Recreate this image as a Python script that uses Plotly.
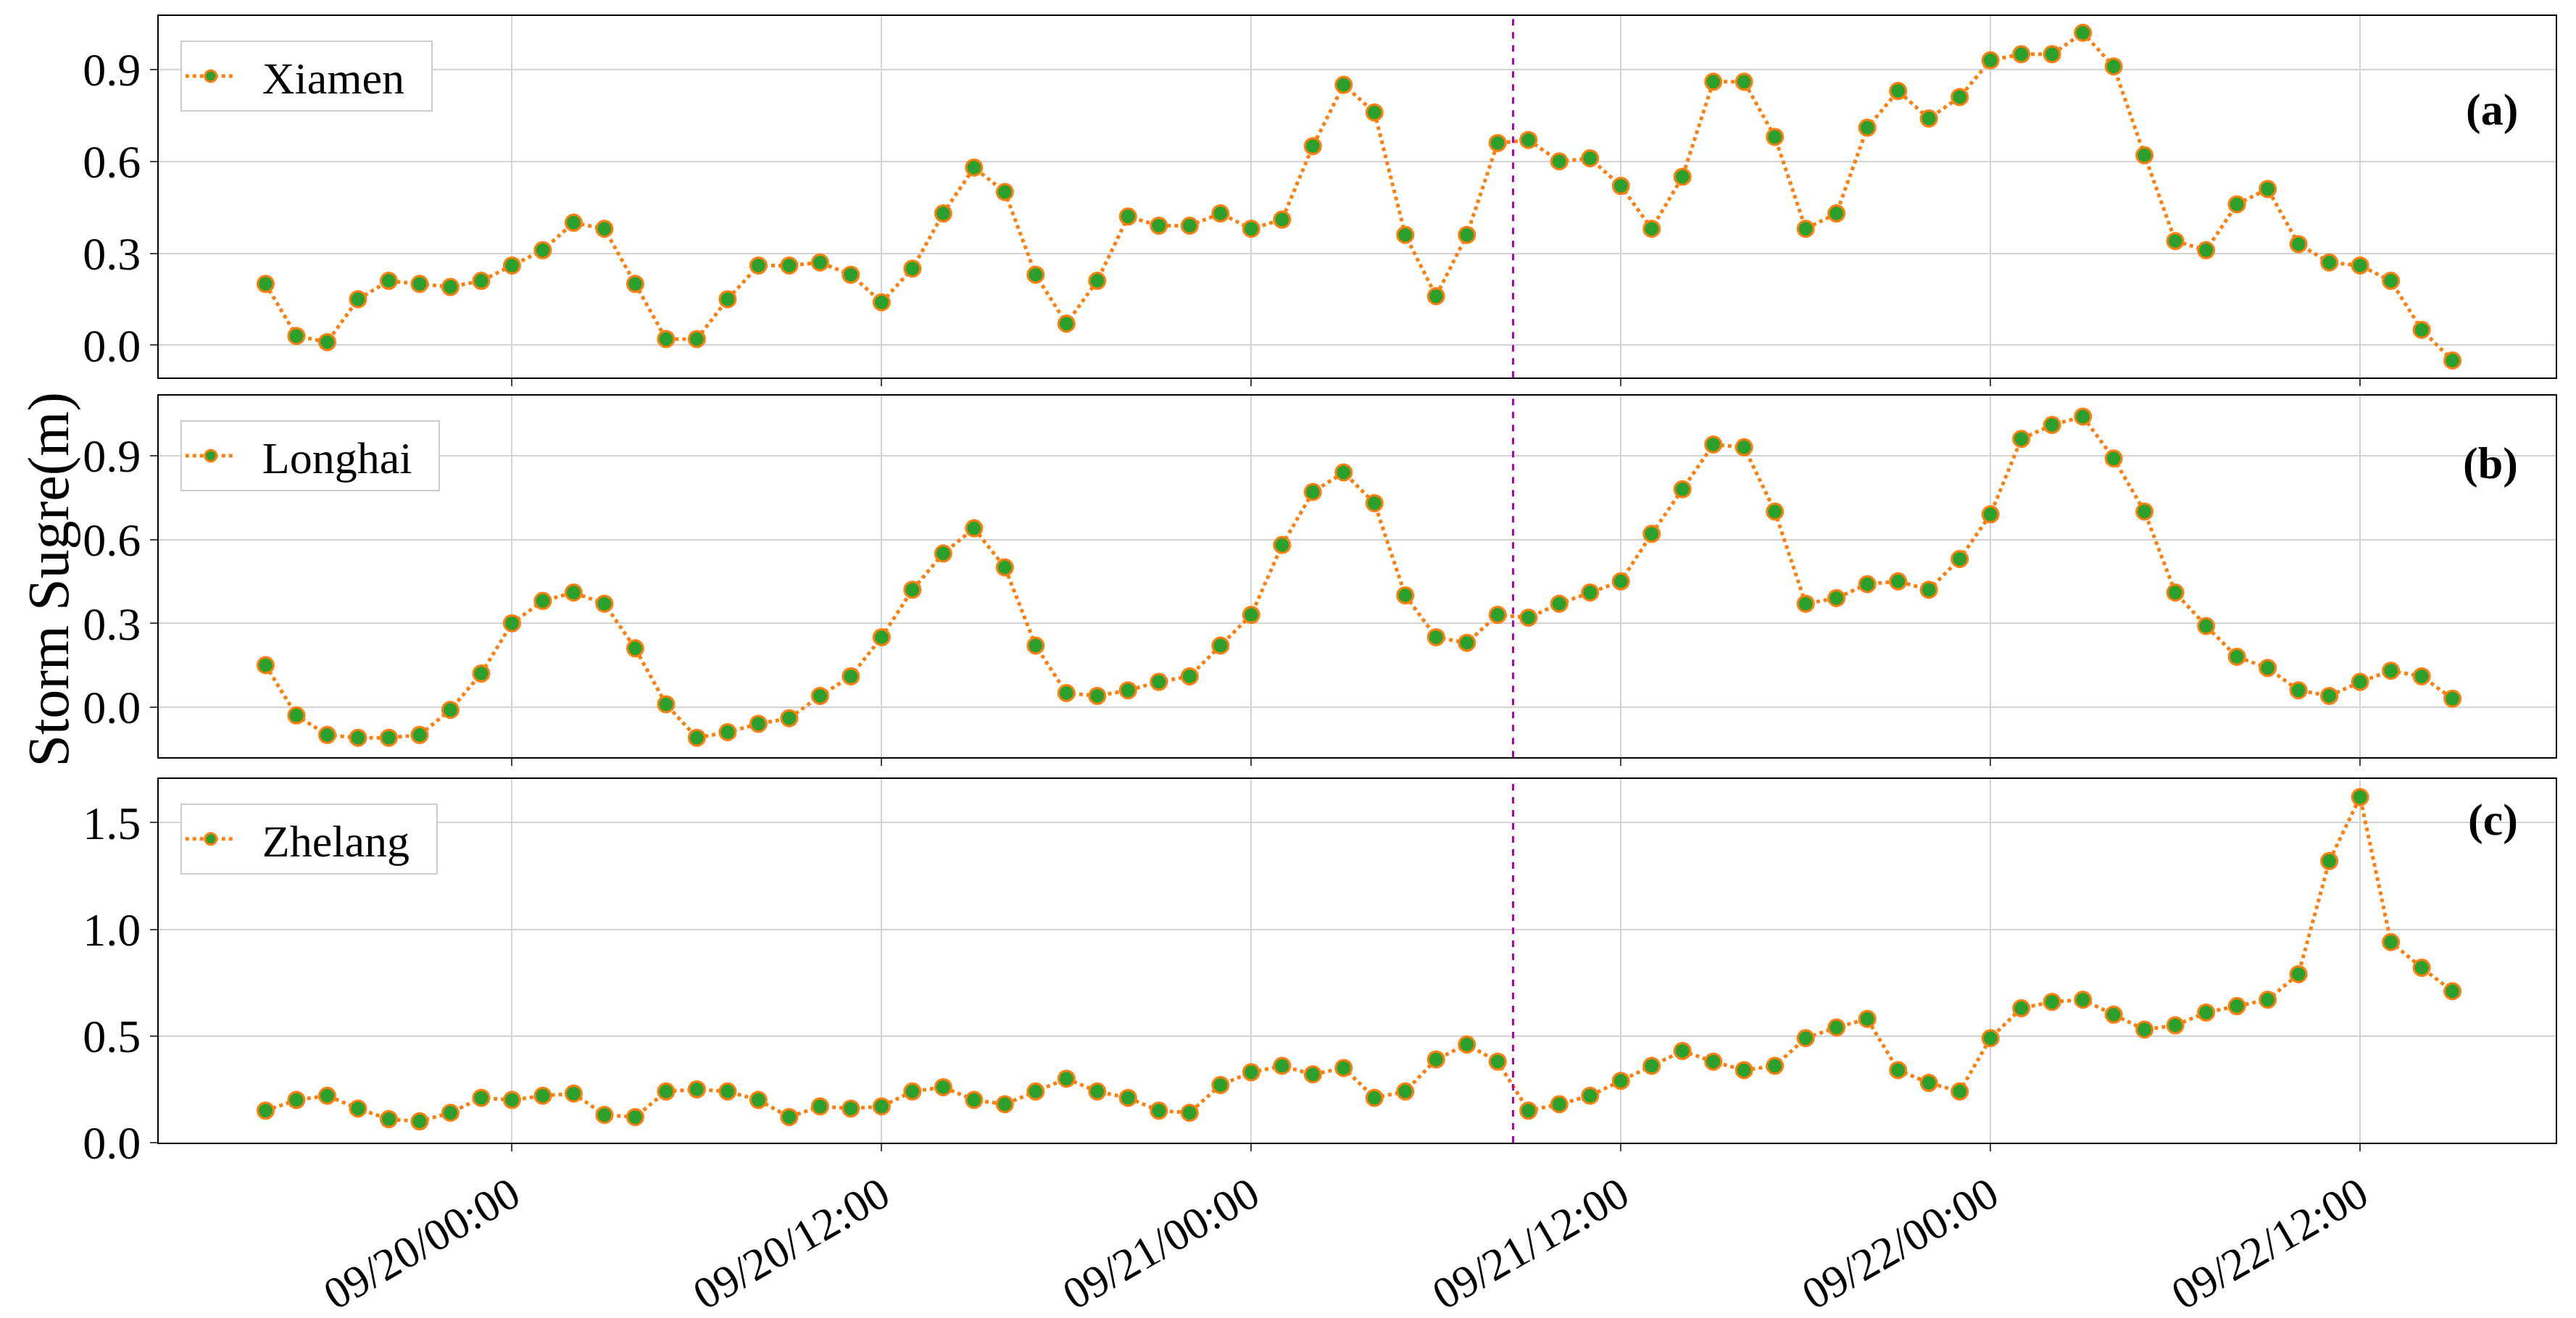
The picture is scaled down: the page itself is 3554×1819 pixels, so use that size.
import plotly.graph_objects as go
from plotly.subplots import make_subplots
import pandas as pd

times = pd.date_range("2023-09-19 16:00", periods=72, freq="h")
xiamen = [0.20,0.03,0.01,0.15,0.21,0.20,0.19,0.21,0.26,0.31,
          0.40,0.38,0.20,0.02,0.02,0.15,0.26,0.26,0.27,0.23,
          0.14,0.25,0.43,0.58,0.50,0.23,0.07,0.21,0.42,0.39,
          0.39,0.43,0.38,0.41,0.65,0.85,0.76,0.36,0.16,0.36,
          0.66,0.67,0.60,0.61,0.52,0.38,0.55,0.86,0.86,0.68,
          0.38,0.43,0.71,0.83,0.74,0.81,0.93,0.95,0.95,1.02,
          0.91,0.62,0.34,0.31,0.46,0.51,0.33,0.27,0.26,0.21,
          0.05,-0.05]
longhai = [0.15,-0.03,-0.10,-0.11,-0.11,-0.10,-0.01,0.12,0.30,0.38,
           0.41,0.37,0.21,0.01,-0.11,-0.09,-0.06,-0.04,0.04,0.11,
           0.25,0.42,0.55,0.64,0.50,0.22,0.05,0.04,0.06,0.09,
           0.11,0.22,0.33,0.58,0.77,0.84,0.73,0.40,0.25,0.23,
           0.33,0.32,0.37,0.41,0.45,0.62,0.78,0.94,0.93,0.70,
           0.37,0.39,0.44,0.45,0.42,0.53,0.69,0.96,1.01,1.04,
           0.89,0.70,0.41,0.29,0.18,0.14,0.06,0.04,0.09,0.13,
           0.11,0.03]
zhelang = [0.15,0.20,0.22,0.16,0.11,0.10,0.14,0.21,0.20,0.22,
           0.23,0.13,0.12,0.24,0.25,0.24,0.20,0.12,0.17,0.16,
           0.17,0.24,0.26,0.20,0.18,0.24,0.30,0.24,0.21,0.15,
           0.14,0.27,0.33,0.36,0.32,0.35,0.21,0.24,0.39,0.46,
           0.38,0.15,0.18,0.22,0.29,0.36,0.43,0.38,0.34,0.36,
           0.49,0.54,0.58,0.34,0.28,0.24,0.49,0.63,0.66,0.67,
           0.60,0.53,0.55,0.61,0.64,0.67,0.79,1.32,1.62,0.94,
           0.82,0.71]
names = ["Xiamen", "Longhai", "Zhelang"]
tags = ["(a)", "(b)", "(c)"]
series = [xiamen, longhai, zhelang]
yranges = [[-0.106, 1.075], [-0.18, 1.115], [0, 1.706]]
ytickvals = [[0, 0.3, 0.6, 0.9], [0, 0.3, 0.6, 0.9], [0, 0.5, 1.0, 1.5]]
ytext = [["0.0", "0.3", "0.6", "0.9"], ["0.0", "0.3", "0.6", "0.9"], ["0.0", "0.5", "1.0", "1.5"]]
xticks = pd.date_range("2023-09-20 00:00", periods=6, freq="12h")
xticklabels = [t.strftime("%m/%d/%H:%M") for t in xticks]
vline_time = "2023-09-21 08:30"

FONT = "Liberation Serif"
domains = [[0.679, 1.0], [0.342, 0.663], [0.0, 0.323]]
fig = make_subplots(rows=3, cols=1, shared_xaxes=False)
legnames = ["legend", "legend2", "legend3"]
x0 = pd.Timestamp("2023-09-20") + pd.Timedelta(hours=-11.47)
x1 = pd.Timestamp("2023-09-20") + pd.Timedelta(hours=66.35)
legends = {}
for i in range(3):
    fig.add_trace(go.Scatter(x=times, y=series[i], name="\u2002" + names[i] + "\u2002", mode="lines+markers",
                             line=dict(color="#ff7f0e", width=5, dash="dot"),
                             marker=dict(color="#2ca02c", size=22, line=dict(color="#ff7f0e", width=3)),
                             legend=legnames[i], showlegend=True), row=i+1, col=1)
    ax = "" if i == 0 else str(i+1)
    fig.layout["yaxis" + ax].update(domain=domains[i], range=yranges[i], tickvals=ytickvals[i],
                                    ticktext=ytext[i])
    fig.layout["xaxis" + ax].update(range=[x0, x1], tickvals=xticks,
                                    ticktext=xticklabels if i == 2 else [""] * 6,
                                    showticklabels=(i == 2))
    fig.add_shape(type="line", x0=vline_time, x1=vline_time, y0=0, y1=1, xref="x" + ax,
                  yref="y" + ax + " domain", line=dict(color="#b000b0", width=3, dash="dash"))
    fig.add_annotation(text="<b>" + tags[i] + "</b>", x=0.985, y=domains[i][1] - 0.06,
                       xref="paper", yref="paper", showarrow=False, xanchor="right",
                       font=dict(size=62, color="black", family=FONT))
    legends[legnames[i]] = dict(x=0.009, y=domains[i][1] - 0.022, xanchor="left", yanchor="top",
                                bordercolor="#cccccc", borderwidth=2, bgcolor="white",
                                itemwidth=70,
                                font=dict(size=62, family=FONT, color="black"))
fig.update_layout(**legends)
fig.update_xaxes(showgrid=True, gridcolor="#d3d3d3", gridwidth=2, showline=True, linecolor="black",
                 linewidth=2, mirror=True, ticks="outside", ticklen=10, tickwidth=2, automargin=False,
                 tickangle=-30, tickfont=dict(size=62, family=FONT, color="black"))
fig.update_yaxes(showgrid=True, gridcolor="#d3d3d3", gridwidth=2, showline=True, linecolor="black",
                 linewidth=2, mirror=True, ticks="outside", ticklen=10, tickwidth=2, zeroline=False,
                 automargin=False, tickfont=dict(size=64, family=FONT, color="black"))
fig.add_annotation(text="Storm Sugre(m)", x=-0.06, y=0.5, xref="paper", yref="paper", textangle=-90,
                   showarrow=False, font=dict(size=80, family=FONT, color="black"))
fig.update_layout(width=3554, height=1819, plot_bgcolor="white", paper_bgcolor="white",
                  showlegend=True,
                  margin=dict(l=211, r=36, t=14, b=250), font=dict(family=FONT))
fig.write_html("out.html")
